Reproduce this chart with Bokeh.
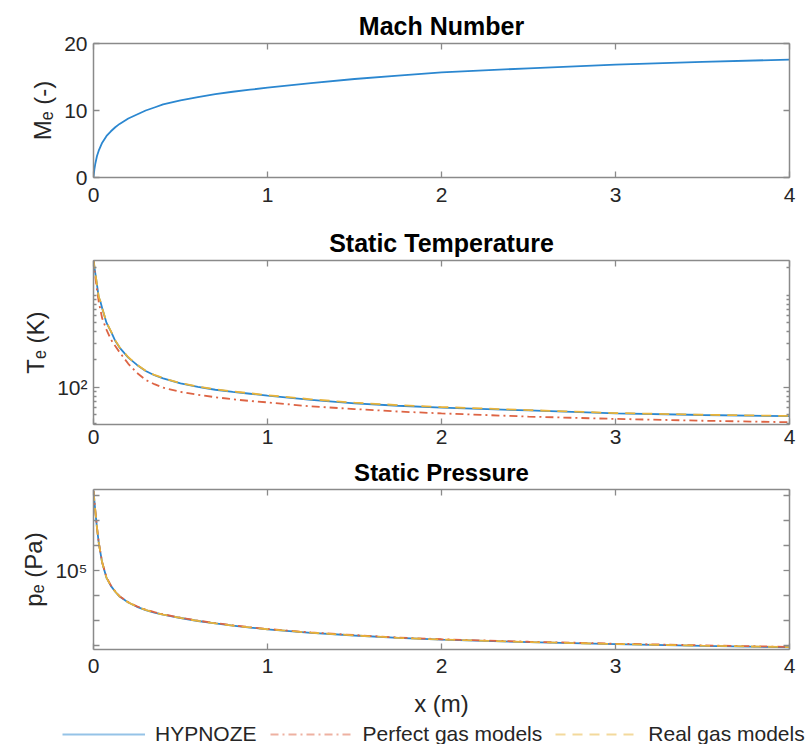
from bokeh.plotting import figure
from bokeh.layouts import column
from bokeh.models import Range1d, FixedTicker, LinearAxis, LogAxis, Legend, LegendItem
from bokeh.embed import file_html
from bokeh.resources import INLINE

# ---------------- data ----------------
x_vals = [0, 0.005, 0.01, 0.02, 0.03, 0.04, 0.05, 0.075, 0.1, 0.125, 0.15, 0.2, 0.25, 0.3, 0.35,
          0.4, 0.5, 0.6, 0.7, 0.8, 0.9, 1.0, 1.25, 1.5, 1.75, 2.0, 2.5, 3.0, 3.5, 4.0]

mach_hypnoze = [0, 1.2, 2.0, 3.2, 4.0, 4.6, 5.2, 6.2, 6.9, 7.5, 8.0, 8.8, 9.4, 10.0, 10.45,
                10.9, 11.5, 12.0, 12.45, 12.8, 13.1, 13.4, 14.1, 14.7, 15.2, 15.7, 16.3, 16.85, 17.25, 17.6]

temp_hypnoze = [2500, 2050, 1750, 1300, 950, 850, 720, 500, 405, 320, 270, 210, 175, 150, 135,
                125, 110, 101, 94, 89, 85, 81, 73, 67, 63, 60, 56, 52, 50, 48.5]
temp_perfect = [2500, 1950, 1600, 1150, 850, 690, 560, 420, 330, 280, 240, 180, 143, 120, 108,
                99, 89, 83, 78, 74, 71, 68.5, 62, 58, 54.5, 52, 48, 45.3, 43.3, 41.7]
temp_real = [2500, 2060, 1760, 1310, 960, 860, 725, 505, 408, 323, 272, 212, 176, 151, 136,
             126, 111, 102, 95, 90, 86, 82, 74, 68, 64, 61, 56.5, 52.5, 50.3, 48.8]

pres_hypnoze = [1.5e8, 6e7, 2.5e7, 5e6, 1.3e6, 5e5, 2e5, 5e4, 2.4e4, 1.4e4, 9000, 5200, 3500, 2600, 2050,
                1700, 1250, 950, 760, 620, 520, 440, 320, 250, 200, 170, 135, 113, 97, 85]
pres_perfect = [1.5e8, 6.1e7, 2.6e7, 5.2e6, 1.35e6, 5.2e5, 2.1e5, 5.2e4, 2.5e4, 1.45e4, 9300, 5400, 3630, 2700, 2130,
                1760, 1290, 980, 785, 640, 537, 455, 332, 260, 208, 177, 141, 118, 101, 88]
pres_real = [1.5e8, 6e7, 2.5e7, 5e6, 1.3e6, 5e5, 2e5, 5e4, 2.4e4, 1.41e4, 9050, 5250, 3520, 2620, 2060,
             1710, 1260, 955, 765, 625, 524, 445, 323, 252, 202, 172, 137, 114, 98, 86]

x_ticks = [0, 1, 2, 3, 4]
mach_ticks = [0, 10, 20]
temp_major = [100]
temp_minor = [40, 50, 60, 70, 80, 90, 200, 300, 400, 500, 600, 700, 800, 900, 1000, 2000]
pres_major = [1e5]
pres_minor = [1e2, 1e3, 1e4, 1e6, 1e7, 1e8]

titles = ["Mach Number", "Static Temperature", "Static Pressure"]
ylabels = ["M\u2091 (-)", "T\u2091 (K)", "p\u2091 (Pa)"]
xlabel = "x (m)"
series_names = ["HYPNOZE", "Perfect gas models", "Real gas models"]

# ---------------- style ----------------
FONT = "Liberation Sans"
AX = "#8a8a8a"
TXT = "#262626"
BLUE = "#2b87d0"
ORANGE = "#dd6444"
YELLOW = "#e8b33a"
DASHDOT = "8 4 2 4"
DASHED = "10 7"
W = 811
LEFT, RIGHT = 93, 22


def style_axis(ax, labels=True, tick_in=6, minor_in=3, standoff=6):
    ax.axis_line_color = AX
    ax.axis_line_width = 1.5
    ax.major_tick_line_color = AX
    ax.minor_tick_line_color = AX
    ax.major_tick_line_width = 1.3
    ax.minor_tick_line_width = 1.3
    ax.major_tick_in = tick_in
    ax.major_tick_out = 0
    ax.minor_tick_in = minor_in
    ax.minor_tick_out = 0
    ax.major_label_text_font = FONT
    ax.axis_label_text_font = FONT
    ax.axis_label_text_color = TXT
    ax.axis_label_text_font_style = "normal"
    ax.axis_label_text_font_size = "24px"
    if labels:
        ax.major_label_text_color = TXT
        ax.major_label_text_font_size = "21px"
        ax.major_label_standoff = standoff
    else:
        ax.major_label_text_color = None
        ax.major_label_text_font_size = "1px"
        ax.major_label_standoff = 0


def make_fig(height, top, bottom, title, y_type, y_range, standoff=8, title_size="25px"):
    p = figure(width=W, height=height, output_backend="svg", toolbar_location=None,
               x_range=Range1d(0, 4), y_range=y_range, y_axis_type=y_type,
               min_border_left=LEFT, min_border_right=RIGHT,
               min_border_top=top, min_border_bottom=bottom)
    p.outline_line_color = None
    p.xgrid.visible = False
    p.ygrid.visible = False
    p.title.text = title
    p.title.align = "center"
    p.title.text_font = FONT
    p.title.text_font_size = title_size
    p.title.text_font_style = "bold"
    p.title.text_color = "#000000"
    p.title.standoff = standoff
    return p


def finish_axes(p, y_ticker_main, y_ticker_mirror, log=False, minor_in=3, tick_in=6, xstandoff=6):
    bottom_ax = p.below[0]
    left_ax = p.left[0]
    bottom_ax.ticker = FixedTicker(ticks=x_ticks)
    left_ax.ticker = y_ticker_main
    style_axis(bottom_ax, standoff=xstandoff)
    style_axis(left_ax, tick_in=tick_in, minor_in=minor_in)
    top_ax = LinearAxis(ticker=FixedTicker(ticks=x_ticks))
    style_axis(top_ax, labels=False)
    p.add_layout(top_ax, "above")
    right_ax = (LogAxis if log else LinearAxis)(ticker=y_ticker_mirror)
    style_axis(right_ax, labels=False, tick_in=tick_in, minor_in=minor_in)
    p.add_layout(right_ax, "right")
    return bottom_ax, left_ax


# ---------- panel 1: Mach ----------
p1 = make_fig(215, 43, 38, titles[0], "linear", Range1d(0, 20))
p1.line(x_vals, mach_hypnoze, line_color=BLUE, line_width=1.8)
bx1, ly1 = finish_axes(p1, FixedTicker(ticks=mach_ticks), FixedTicker(ticks=mach_ticks),
                       xstandoff=10)
ly1.axis_label = ylabels[0]

# ---------- panel 2: temperature ----------
p2 = make_fig(238, 45, 29, titles[1], "log", Range1d(39.4, 2383))
p2.line(x_vals, temp_hypnoze, line_color=BLUE, line_width=1.8)
p2.line(x_vals, temp_perfect, line_color=ORANGE, line_width=1.8, line_dash=DASHDOT)
p2.line(x_vals, temp_real, line_color=YELLOW, line_width=1.8, line_dash=DASHED)
bx2, ly2 = finish_axes(p2, FixedTicker(ticks=temp_major, minor_ticks=temp_minor),
                       FixedTicker(ticks=temp_major, minor_ticks=temp_minor), log=True,
                       xstandoff=5)
ly2.axis_label = ylabels[1]
ly2.major_label_overrides = {100: "10\u00b2"}

# ---------- panel 3: pressure ----------
p3 = make_fig(270, 35, 74, titles[2], "log", Range1d(69, 1.7e8), standoff=7, title_size="24px")
p3.line(x_vals, pres_hypnoze, line_color=BLUE, line_width=1.8)
p3.line(x_vals, pres_perfect, line_color=ORANGE, line_width=1.8, line_dash=DASHDOT)
p3.line(x_vals, pres_real, line_color=YELLOW, line_width=1.8, line_dash=DASHED)
bx3, ly3 = finish_axes(p3, FixedTicker(ticks=pres_major, minor_ticks=pres_minor),
                       FixedTicker(ticks=pres_major, minor_ticks=pres_minor), log=True,
                       minor_in=6, xstandoff=9)
ly3.axis_label = ylabels[2]
ly3.major_label_overrides = {100000: "10\u2075"}
bx3.axis_label = xlabel
bx3.axis_label_standoff = 14

# ---------- legend strip ----------
pl = figure(width=W, height=21, output_backend="svg", toolbar_location=None,
            x_range=Range1d(0, 1), y_range=Range1d(0, 1),
            x_axis_location=None, y_axis_location=None,
            min_border_left=0, min_border_right=0, min_border_top=0, min_border_bottom=0)
if "frame_align" in pl.properties():
    pl.frame_align = False
pl.outline_line_color = None
pl.xgrid.visible = False
pl.ygrid.visible = False
off_x = [-3, -2]
off_y = [0.5, 0.5]
l1 = pl.line(off_x, off_y, line_color=BLUE, line_width=2.2, line_alpha=0.5)
l2 = pl.line(off_x, off_y, line_color=ORANGE, line_width=2.2, line_alpha=0.5, line_dash=DASHDOT)
l3 = pl.line(off_x, off_y, line_color=YELLOW, line_width=2.2, line_alpha=0.5, line_dash=DASHED)
legend = Legend(items=[LegendItem(label=series_names[0], renderers=[l1]),
                       LegendItem(label=series_names[1], renderers=[l2]),
                       LegendItem(label=series_names[2], renderers=[l3])],
                orientation="horizontal", location=(62, -2),
                border_line_color=None, background_fill_alpha=0,
                label_text_font=FONT, label_text_font_size="21px", label_text_color=TXT,
                glyph_width=83, glyph_height=20, label_standoff=10, spacing=13,
                padding=0, margin=0)
pl.add_layout(legend, "center")

layout = column(p1, p2, p3, pl, spacing=0)
open("out.html", "w").write(file_html(layout, INLINE))
